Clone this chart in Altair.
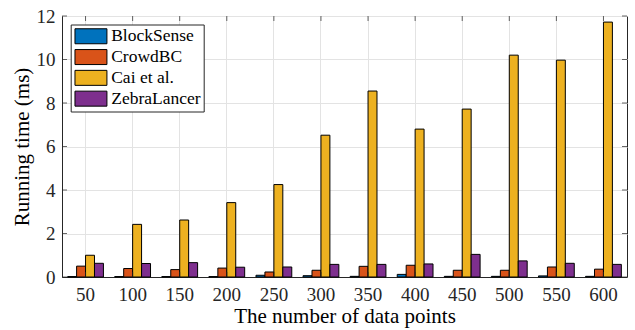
import altair as alt
import pandas as pd

categories = ["50", "100", "150", "200", "250", "300", "350", "400", "450", "500", "550", "600"]
series = ["BlockSense", "CrowdBC", "Cai et al.", "ZebraLancer"]
blocksense = [0.02, 0.02, 0.02, 0.02, 0.08, 0.06, 0.03, 0.12, 0.03, 0.03, 0.05, 0.03]
crowdbc = [0.50, 0.39, 0.34, 0.41, 0.23, 0.31, 0.49, 0.54, 0.31, 0.31, 0.46, 0.36]
cai = [1.00, 2.42, 2.62, 3.42, 4.25, 6.52, 8.55, 6.80, 7.72, 10.20, 9.97, 11.72]
zebra = [0.63, 0.62, 0.66, 0.45, 0.46, 0.58, 0.58, 0.60, 1.04, 0.74, 0.63, 0.58]
colors = ["#0072BD", "#D95319", "#EDB120", "#7E2F8E"]
y_ticks = [0, 2, 4, 6, 8, 10, 12]

rows = []
for name, vals in zip(series, [blocksense, crowdbc, cai, zebra]):
    for c, v in zip(categories, vals):
        rows.append({"cat": c, "series": name, "value": v})
df = pd.DataFrame(rows)
df_y = pd.DataFrame({"t": y_ticks})
df_x = pd.DataFrame({"cat": categories})

W, H = 565, 261
FONT = "Liberation Serif"

xscale = alt.Scale(domain=categories, paddingInner=0.24, paddingOuter=0.12)
yscale = alt.Scale(domain=[0, 12], nice=False)

bars = alt.Chart(df).mark_bar(stroke="#000000", strokeWidth=1).encode(
    x=alt.X("cat:N", sort=categories, scale=xscale,
            axis=alt.Axis(title="The number of data points", labelAngle=0, tickSize=0,
                          labelPadding=8, titlePadding=1, grid=True)),
    xOffset=alt.XOffset("series:N", sort=series, scale=alt.Scale(paddingInner=0, paddingOuter=0)),
    y=alt.Y("value:Q", scale=yscale,
            axis=alt.Axis(title="Running time (ms)", values=y_ticks, tickSize=0,
                          labelPadding=7, titlePadding=4, grid=True)),
    color=alt.Color("series:N", sort=series, scale=alt.Scale(domain=series, range=colors),
                    legend=alt.Legend(title=None, orient="none", legendX=8.7, legendY=8.5,
                                      strokeColor="#262626", padding=3, fillColor="white",
                                      symbolType="M-2.13,-1H2.13V1H-2.13Z", symbolSize=225,
                                      symbolOffset=8.5,
                                      symbolStrokeColor="#000000", symbolStrokeWidth=1,
                                      symbolOpacity=1, labelOffset=11.5, rowPadding=0.8,
                                      labelFontSize=17.5, labelFont=FONT, labelColor="#000000")),
)

ytick_l = alt.Chart(df_y).mark_tick(color="#262626", thickness=1, size=5, orient="horizontal").encode(
    y=alt.Y("t:Q", scale=yscale), x=alt.value(2.5))
ytick_r = alt.Chart(df_y).mark_tick(color="#262626", thickness=1, size=5, orient="horizontal").encode(
    y=alt.Y("t:Q", scale=yscale), x=alt.value(W - 2.5))
xtick_b = alt.Chart(df_x).mark_tick(color="#262626", thickness=1, size=5, orient="vertical").encode(
    x=alt.X("cat:N", sort=categories, scale=xscale), y=alt.value(H - 2.5))
xtick_t = alt.Chart(df_x).mark_tick(color="#262626", thickness=1, size=5, orient="vertical").encode(
    x=alt.X("cat:N", sort=categories, scale=xscale), y=alt.value(2.5))

chart = alt.layer(bars, ytick_l, ytick_r, xtick_b, xtick_t).properties(
    width=W, height=H,
    background="white",
    autosize=alt.AutoSizeParams(type="none"),
    padding={"left": 62, "top": 16, "right": 8, "bottom": 53},
).configure_view(stroke="#262626", strokeWidth=1).configure_axis(
    labelFont=FONT, titleFont=FONT, labelFontSize=19, titleFontSize=21,
    labelColor="#262626", titleColor="#000000", titleFontWeight="normal",
    domainColor="#262626", gridColor="#e3e3e3", gridOpacity=1,
).configure_legend(labelFont=FONT, labelFontSize=17.5, labelColor="#000000")

chart.save("out.html", embed_options={"renderer": "svg", "actions": False})
